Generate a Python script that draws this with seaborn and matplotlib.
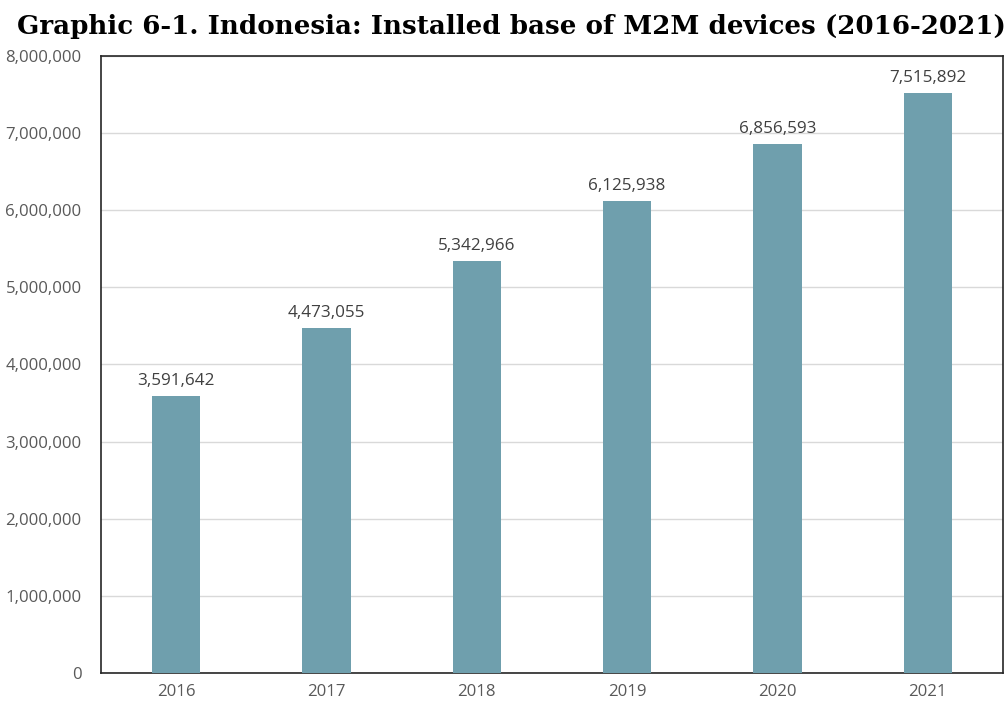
import matplotlib
matplotlib.use("Agg")
import matplotlib.pyplot as plt
import seaborn as sns
import pandas as pd

years = ["2016", "2017", "2018", "2019", "2020", "2021"]
devices = [3591642, 4473055, 5342966, 6125938, 6856593, 7515892]
title = "Graphic 6-1. Indonesia: Installed base of M2M devices (2016-2021)"

sns.set_theme(style="white")
plt.rcParams["font.family"] = ["Open Sans", "DejaVu Sans"]

df = pd.DataFrame({"year": years, "devices": devices})

fig = plt.figure(figsize=(10.08, 7.09), dpi=100)
ax = fig.add_axes([0.1002, 0.0508, 0.8948, 0.8702])

sns.barplot(data=df, x="year", y="devices", color="#6F9FAD", saturation=1,
            width=0.32, linewidth=0, ax=ax, zorder=3)

ax.set_ylim(0, 8_000_000)
ax.set_yticks(range(0, 8_000_001, 1_000_000))
ax.set_yticklabels([f"{v:,}" for v in range(0, 8_000_001, 1_000_000)])
ax.grid(axis="y", color="#d9d9d9", linewidth=1, zorder=0)
ax.set_xlabel("")
ax.set_ylabel("")
ax.tick_params(axis="both", colors="#595959", labelsize=12.1, length=0)
ax.tick_params(axis="y", pad=14)
ax.tick_params(axis="x", pad=8)

for side in ax.spines.values():
    side.set_color("#262626")
    side.set_linewidth(1.2)
    side.set_visible(True)

for i, v in enumerate(devices):
    ax.annotate(f"{v:,}", (i, v), xytext=(0, 5), textcoords="offset points",
                ha="center", va="bottom", fontsize=12.3, color="#404040")

fig.text(0.5075, 0.962, title, ha="center", va="center", fontsize=18.8,
         fontweight="bold", family=["DejaVu Serif"], color="black")

fig.savefig("out.png", dpi=100, facecolor="white")
